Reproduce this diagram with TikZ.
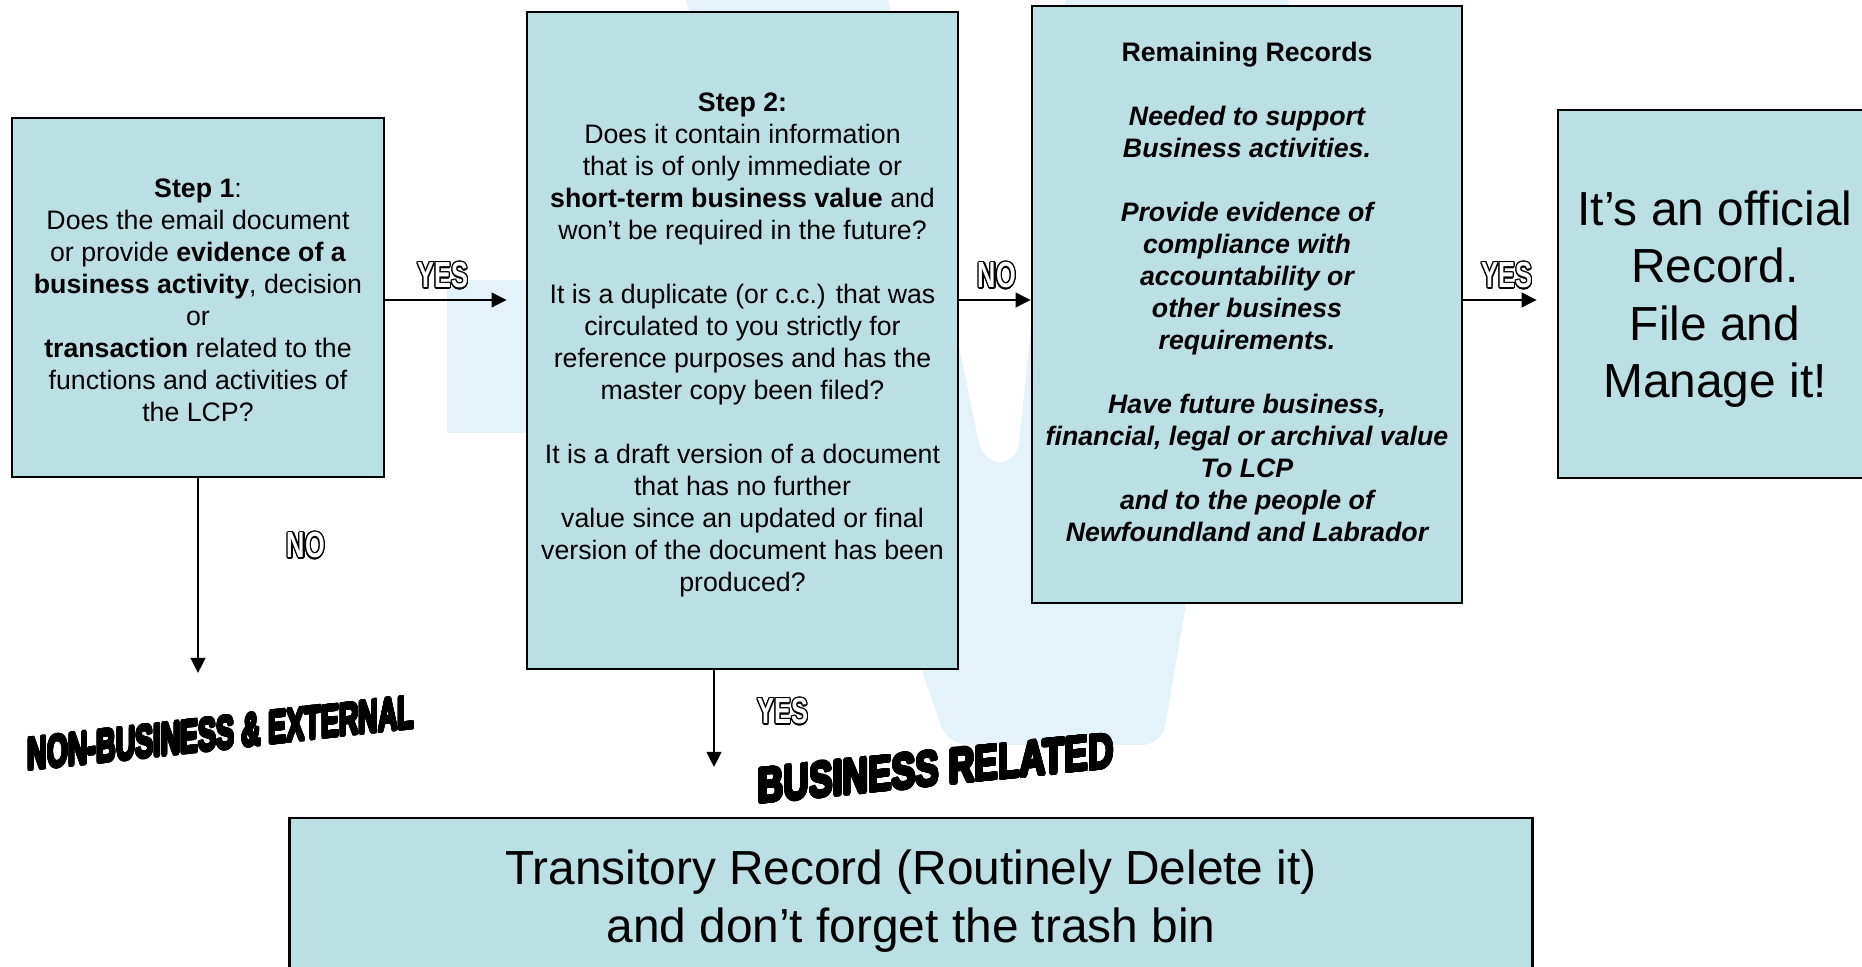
\documentclass[tikz,border=0pt]{standalone}
\usepackage{fontspec}
\setmainfont{Liberation Sans}
\usepackage{contour}
\usetikzlibrary{arrows.meta}

\definecolor{boxfill}{RGB}{187,224,227}
\definecolor{logoblue}{RGB}{228,243,250}

\newcommand{\hollow}[1]{\scalebox{0.7}[1]{\contourlength{0.45pt}{\color{white}\contour{black}{#1}}}}
\newcommand{\heavy}[1]{\contourlength{0.5pt}\contour[24]{black}{#1}}

\tikzset{
  box/.style={draw, line width=0.7pt, fill=boxfill, inner sep=0pt},
  txt/.style={inner sep=0pt, align=center, font=\fontsize{7.6}{9.1}\selectfont},
  bigtxt/.style={txt, font=\fontsize{13.6}{16.3}\selectfont},
  arr/.style={-{Triangle[length=4.3pt,width=4.2pt]}, line width=0.55pt},
  yesno/.style={inner sep=0pt, font=\fontsize{10.3}{12}\selectfont\bfseries},
  banner/.style={inner sep=0pt, font=\bfseries},
}

\begin{document}
\begin{tikzpicture}[x=0.01cm,y=-0.01cm]
  \clip (0,0) rectangle (1862,967);

  % faint logo behind the boxes
  \fill[logoblue] (447,280) rectangle (760,433);
  \fill[logoblue, rounded corners=0.2cm] (675,-30) -- (948,745) -- (1162,745)
    -- (1294,-30) -- (1068,-30) -- (1017,463) -- (983,463) -- (882,-30) -- cycle;

  \node[box, minimum width=3.72cm, minimum height=3.59cm] (step1) at (198,297.5) {};
  \node[box, minimum width=4.31cm, minimum height=6.57cm] (step2) at (742.5,340.5) {};
  \node[box, minimum width=4.30cm, minimum height=5.97cm] (remain) at (1247,304.5) {};
  \node[box, minimum width=3.14cm, minimum height=3.68cm] (official) at (1715,294) {};
  \node[box, minimum width=12.42cm, minimum height=1.57cm] (transit) at (911,896.5) {};

  \node[txt] (step1text) at ([yshift=-0.85pt]step1.center)
    {\textbf{Step 1}:\\
     Does the email document\\
     or provide \textbf{evidence of a}\\
     \textbf{business activity}, decision\\
     or\\
     \textbf{transaction} related to the\\
     functions and activities of\\
     the LCP?};
  \node[txt] (step2text) at ([yshift=-1.35pt]step2.center)
    {\textbf{Step 2:}\\
     Does it contain information\\
     that is of only immediate or\\
     \textbf{short-term business value} and\\
     won’t be required in the future?\\[9.1pt]
     It is a duplicate (or c.c.) that was\\
     circulated to you strictly for\\
     reference purposes and has the\\
     master copy been filed?\\[9.1pt]
     It is a draft version of a document\\
     that has no further\\
     value since an updated or final\\
     version of the document has been\\
     produced?};
  \node[txt, font=\fontsize{7.6}{9.1}\selectfont\bfseries\itshape]
    (remaintext) at ([yshift=3.6pt]remain.center)
    {{\upshape Remaining Records}\\[9.1pt]
     Needed to support\\
     Business activities.\\[9.1pt]
     Provide evidence of\\
     compliance with\\
     accountability or\\
     other business\\
     requirements.\\[9.1pt]
     Have future business,\\
     financial, legal or archival value\\
     To LCP\\
     and to the people of\\
     Newfoundland and Labrador};
  \node[bigtxt] (officialtext) at ([yshift=-1.5pt]official.center)
    {It’s an official\\ Record.\\ File and\\ Manage it!};
  \node[bigtxt] (transittext) at ([yshift=-1.35pt]transit.center)
    {Transitory Record (Routinely Delete it)\\ and don’t forget the trash bin};

  \coordinate (row) at (0,300);
  \coordinate (nbend) at (198,673);
  \coordinate (brend) at (714,767);

  \draw[arr, shorten >=0.19cm] (step1.east |- row) -- (step2.west |- row);
  \draw[arr] (step2.east |- row) -- (remain.west |- row);
  \draw[arr, shorten >=0.2cm] (remain.east |- row) -- (official.west |- row);
  \draw[arr] (step1.south) -- (nbend);
  \draw[arr] (step2.south -| brend) -- (brend);

  \node[yesno] (yes1) at (443,276) {\hollow{YES}};
  \node[yesno] (no2) at (997,276) {\hollow{NO}};
  \node[yesno] (yes3) at (1507,276) {\hollow{YES}};
  \node[yesno] (no1) at (306,546) {\hollow{NO}};
  \node[yesno] (yes2) at (783,712) {\hollow{YES}};

  \node[banner, font=\fontsize{13}{15}\selectfont\bfseries, yslant=0.11] (nonbiz) at (221,734)
    {\scalebox{0.59}[1]{\heavy{NON-BUSINESS \& EXTERNAL}}};
  \node[banner, font=\fontsize{14}{16}\selectfont\bfseries, yslant=0.1] (bizrel) at (936,769)
    {\scalebox{0.72}[1]{\heavy{BUSINESS RELATED}}};
\end{tikzpicture}
\end{document}
